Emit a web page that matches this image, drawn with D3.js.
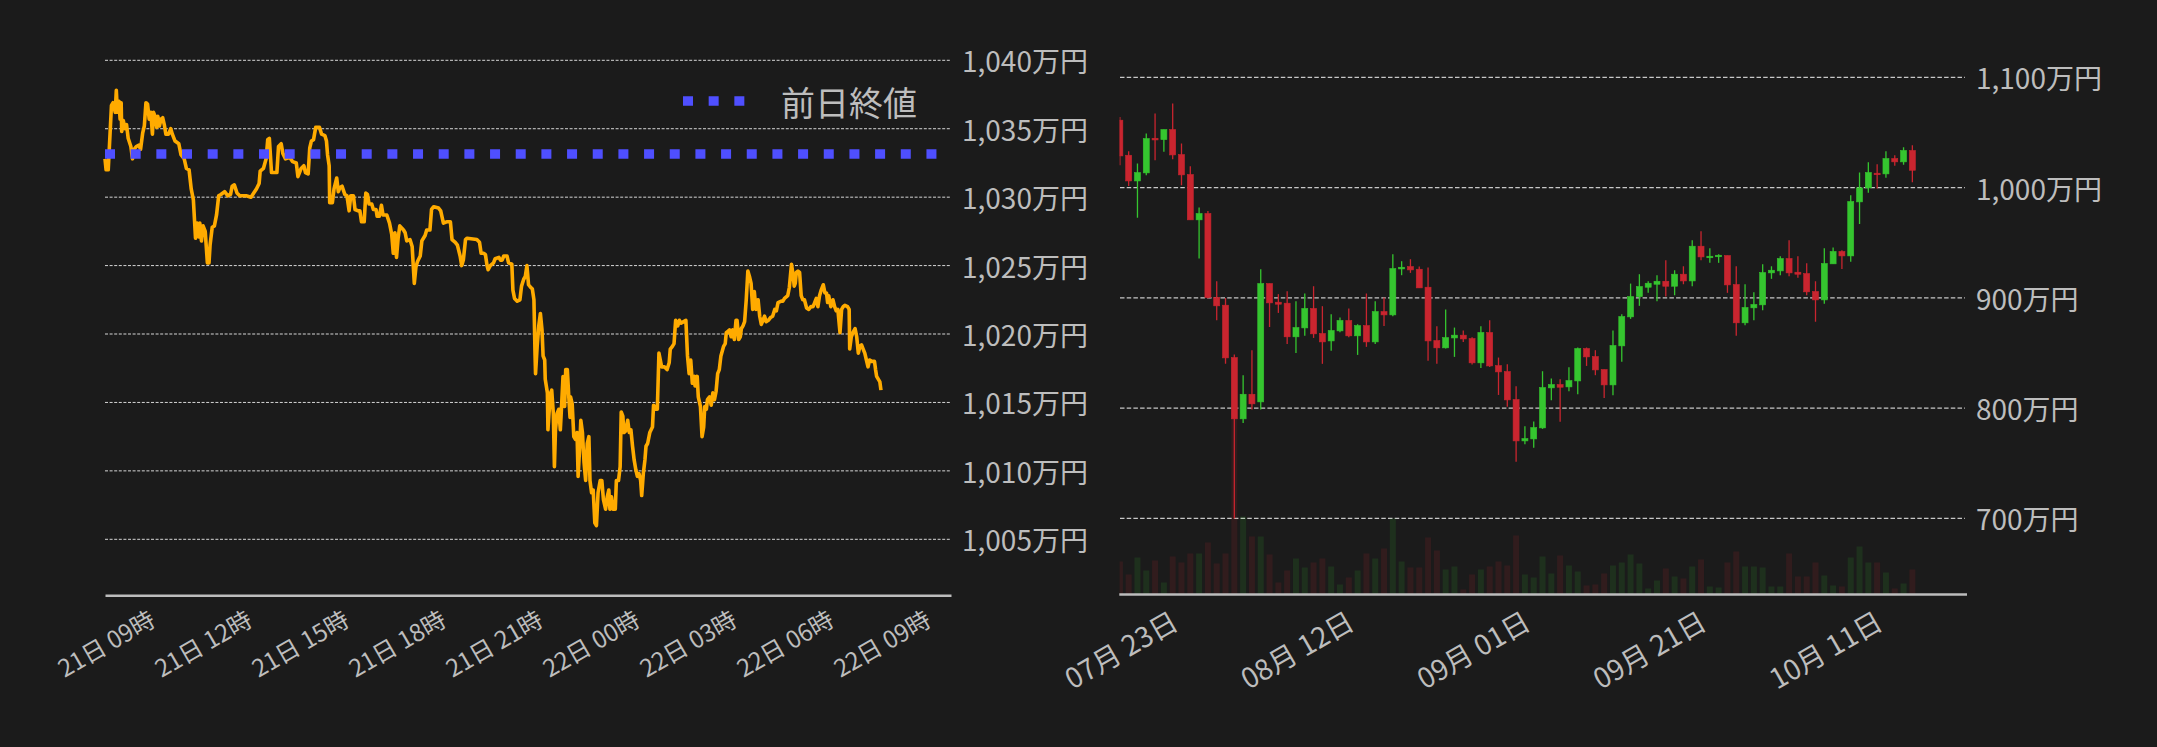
<!DOCTYPE html>
<html>
<head>
<meta charset="utf-8">
<script src="https://cdn.jsdelivr.net/npm/d3@7"></script>
<style>
  html, body { margin: 0; padding: 0; background: #1b1b1b; }
  svg { display: block; }
  text { font-family: "Noto Sans CJK JP", "Noto Sans", sans-serif; fill: #bdbdbd; }
</style>
</head>
<body>
<svg id="chart"></svg>
<script>
// ---- intraday (21日 09時 -> 22日 09時), minutes after start / price in 万円
const lineMinutes = [
  0,2,6,12,15,19,21,23,26,28, 30,31,34,37,40,43,48,51,54,58,
  63,66,70,73,76,79,82,85,88,90, 93,96,98,101,104,107,110,113,118,122,
  125,130,137,141,147,151,156,160,164,168, 171,174,176,179,182,186,190,193,195,199,
  203,207,211,215,222,228,233,236,240,245, 250,262,271,276,281,286,288,294,299,302,
  305,309,319,322,327,330,335,343,348,355, 358,361,364,369,372,377,380,383,387,391,
  395,398,402,408,411,413,416,417,422,425, 430,433,436,440,445,449,453,456,461,464,
  470,473,476,481,484,487,490,495,498,503, 505,509,513,516,523,528,532,535,538,541,
  544,547,554,557,560,566,570,574,577,580, 585,588,594,597,603,606,610,619,623,628,
  634,641,644,650,654,659,662,665,669,672, 690,695,698,703,706,709,711,715,721,724,
  731,
  734,737,740,746,749,755,757,760,765,770, 773,777,780,783,786,790,793,796,798,799,
  802,805,808,811,813,816,817,821,822,824, 827,829,832,834,836,839,842,845,847,850,
  853,855,858,861,863,864,867,870,873,876, 878,881,883,886,889,892,895,898,900,903,
  906,909,912,915,919,922,925,929,932,935, 937,940,943,947,949,953,956,958,961,963,
  966,970,973,976,979,982,985,988,991,994, 996,999,1002,1004,1007,1011,1016,1018,1022,1025,
  1028,1033,1038,1043,1047,1049,1053,1056,1059,1063, 1066,1069,1078,1081,1084,1087,1090,1094,1095,1099,
  1101,1105,1108,1111,1113,1116,1118,1122,1125,1128, 1131,1134,1137,1140,1143,1148,1151,1153,1156,1159,
  1162,1165,1168,1171,1173,1176,1179,1181,1184,1187, 1190,1193,1196,1199,1202,1205,1208,1212,1215,1218,
  1221,1224,1227,1231,1235,1239,1243,1246,1249,1255, 1258,1261,1267,1270,1274,1277,1279,1281,1283,1286,
  1289,1292,1295,1298,1302,1306,1310,1314,1317,1320, 1323,1326,1329,1333,1336,1339,1341,1343,1347,1351,
  1354,1357,1360,1364,1367,1370,1373,1378,1381,1382, 1385,1388,1392,1395,1398,1401,1404,1407,1410,1413,
  1416,1419,1423,1428,1430,1432,1435,1438,1440
];
const linePrices = [
  1032.8,1032.0,1032.0,1036.7,1036.9,1036.2,1037.8,1036.2,1037.0,1035.7, 1036.9,1034.8,1035.6,1035.0,1035.3,1034.3,1033.7,1032.8,1033.5,1033.7,
  1033.8,1033.5,1034.7,1035.2,1036.9,1036.8,1035.7,1036.2,1034.6,1036.2, 1035.9,1035.1,1035.9,1035.2,1035.7,1035.8,1035.3,1034.6,1034.6,1035.0,
  1034.6,1034.1,1033.9,1033.1,1032.8,1032.1,1032.0,1030.6,1029.8,1027.0, 1028.1,1027.1,1028.1,1026.8,1027.9,1027.5,1025.2,1025.2,1026.5,1027.8,
  1027.9,1028.7,1030.1,1030.2,1030.4,1030.1,1030.2,1030.8,1030.9,1030.3, 1030.1,1030.1,1030.0,1030.3,1030.6,1031.0,1031.9,1032.1,1032.8,1034.2,
  1034.3,1031.8,1031.8,1033.7,1033.9,1033.2,1032.8,1032.9,1032.6,1032.5, 1031.5,1031.8,1032.1,1032.3,1031.8,1031.7,1033.6,1034.1,1034.2,1035.1,
  1035.1,1035.1,1034.6,1034.5,1034.1,1033.1,1032.3,1029.6,1029.6,1030.6, 1031.4,1030.4,1030.7,1030.8,1030.2,1030.1,1029.0,1030.1,1030.1,1029.1,
  1029.0,1029.0,1028.2,1028.2,1030.3,1030.2,1029.5,1029.5,1029.1,1029.1, 1028.6,1028.6,1029.4,1028.7,1028.7,1028.1,1027.3,1025.9,1027.4,1025.6,
  1027.0,1027.9,1027.6,1027.4,1026.8,1026.9,1026.4,1023.7,1024.9,1025.3, 1025.7,1026.8,1027.2,1027.6,1027.6,1029.1,1029.3,1029.2,1029.0,1028.1,
  1028.2,1028.2,1026.9,1026.7,1026.5,1025.7,1025.0,1025.4,1026.9,1027.0, 1026.9,1026.7,1025.9,1025.9,1025.8,1025.0,1024.7,1025.0,1025.2,1025.5,
  1025.6,
  1025.4,1025.4,1025.7,1025.7,1025.2,1025.1,1023.2,1022.6,1022.4,1022.5, 1023.5,1024.0,1024.2,1025.0,1023.6,1023.4,1023.3,1022.5,1018.6,1017.1,
  1019.1,1020.6,1021.5,1020.3,1018.4,1018.1,1016.7,1015.7,1013.0,1014.2, 1015.7,1015.9,1014.2,1010.3,1013.0,1014.2,1014.5,1013.0,1014.5,1016.9,
  1014.7,1017.4,1017.4,1015.2,1013.9,1015.4,1014.9,1012.5,1012.3,1012.8, 1009.6,1011.8,1013.7,1012.8,1010.6,1009.3,1012.0,1012.5,1009.3,1008.4,
  1008.6,1006.2,1006.0,1008.4,1009.3,1009.3,1007.9,1007.2,1008.1,1008.6, 1007.2,1008.1,1007.2,1007.2,1009.3,1009.3,1010.3,1014.3,1014.0,1012.8,
  1012.9,1013.7,1012.8,1013.0,1011.8,1010.8,1010.1,1009.6,1009.8,1009.3, 1008.2,1009.8,1010.8,1011.8,1012.0,1012.8,1013.2,1014.8,1014.5,1014.5,
  1018.6,1017.6,1017.6,1017.4,1017.9,1018.9,1019.1,1019.3,1021.0,1020.6, 1021.0,1020.8,1021.0,1018.4,1017.1,1018.1,1016.4,1016.9,1016.2,1016.9,
  1015.4,1014.7,1012.5,1013.2,1014.7,1014.5,1015.2,1015.4,1014.8,1015.7, 1015.2,1015.8,1017.1,1017.4,1018.4,1019.1,1019.3,1020.1,1020.2,1020.3,
  1019.8,1020.3,1019.6,1021.0,1021.0,1019.6,1019.8,1020.4,1020.6,1020.9, 1022.5,1024.6,1024.2,1023.7,1021.8,1023.1,1021.8,1022.5,1021.3,1020.7,
  1021.0,1021.3,1020.9,1021.0,1021.2,1021.3,1021.8,1021.7,1022.3,1022.4, 1022.4,1022.6,1022.8,1023.4,1025.1,1024.3,1023.5,1023.7,1024.5,1024.6,
  1024.5,1022.8,1022.5,1022.5,1021.9,1021.8,1022.0,1022.0,1022.3,1022.6, 1022.0,1022.8,1023.2,1023.6,1023.0,1023.0,1022.3,1022.8,1022.0,1022.5,
  1022.0,1021.7,1021.8,1020.1,1021.8,1022.0,1022.1,1022.0,1021.8,1018.9, 1019.8,1020.1,1020.4,1019.8,1018.6,1019.1,1019.2,1018.9,1018.6,1018.1,
  1017.6,1018.1,1018.0,1018.0,1017.4,1016.9,1016.7,1016.5,1015.9
];
const prevClose = 1033.15;          // 前日終値
const intradayTicks = [1005, 1010, 1015, 1020, 1025, 1030, 1035, 1040];

// ---- daily candles from 2024-07-23 (万円), volume in BTC
const firstDay = "2024-07-23";
const opens = [
  1061.1,1029.3,1006.0,1013.3,1044.7,1043.5,1052.6,1029.9,1011.8,970.7,
  976.4,900.2,893.3,845.8,790.2,812.5,805.6,912.9,896.0,895.1,
  864.6,872.7,890.3,867.6,860.9,870.0,879.4,865.5,874.8,860.0,
  887.5,884.5,926.2,928.3,925.9,909.6,861.2,854.6,863.6,866.1,
  863.0,841.0,868.5,838.5,833.1,807.7,770.2,772.0,782.0,818.3,
  821.3,819.2,824.6,854.0,846.7,834.9,821.0,856.4,882.7,901.1,
  909.6,912.3,915.0,910.5,921.4,915.3,946.8,937.1,937.7,938.3,
  912.0,877.3,890.9,893.6,922.6,924.4,935.6,923.2,922.0,905.7,
  898.1,930.8,942.0,938.0,987.0,999.7,1013.0,1012.4,1026.3,1023.3,
  1033.6
];
const highs = [
  1064.1,1033.0,1021.8,1049.0,1067.1,1052.6,1076.2,1039.9,1019.3,981.9,
  978.8,915.0,899.9,848.5,829.8,852.5,925.9,912.9,903.3,906.0,
  896.9,903.9,910.5,892.4,885.1,882.1,890.3,876.0,903.9,896.9,
  900.2,939.5,933.2,935.0,928.3,927.4,874.2,889.3,873.0,870.3,
  864.2,874.2,879.7,845.8,839.8,819.8,783.5,787.8,833.4,826.8,
  826.2,837.0,854.9,854.9,852.5,834.9,870.3,885.1,912.9,921.4,
  915.0,920.5,934.1,925.0,928.6,952.2,960.4,945.0,939.5,938.3,
  928.6,912.3,905.1,930.5,928.6,937.7,952.2,937.7,931.4,915.0,
  945.0,945.6,943.2,993.0,1013.6,1023.0,1021.2,1033.0,1029.3,1036.6,
  1038.4
];
const lows = [
  1020.3,1001.5,972.5,1011.2,1024.8,1032.4,1025.7,1002.1,970.7,935.6,
  899.3,879.7,840.1,699.8,786.5,798.6,798.6,873.6,886.3,858.2,
  850.0,865.5,863.6,840.1,851.9,868.8,864.2,848.2,855.5,858.2,
  874.5,883.3,920.5,922.6,909.0,842.8,840.1,854.0,846.4,860.0,
  839.5,836.4,837.3,811.9,801.1,751.2,767.2,763.9,781.1,807.1,
  787.5,815.3,812.5,838.2,829.8,809.2,811.6,841.9,880.9,892.7,
  904.5,896.9,901.1,902.3,912.3,910.5,934.1,931.7,931.7,904.5,
  865.5,875.1,879.7,888.7,917.2,920.5,919.6,918.1,902.3,878.2,
  894.5,930.8,926.2,932.6,967.0,995.2,999.1,1008.8,1019.7,1020.6,
  1004.8
];
const closes = [
  1028.7,1006.0,1013.6,1044.4,1043.2,1052.6,1029.6,1011.5,970.7,976.4,
  900.2,892.7,845.5,790.2,812.5,803.8,912.9,895.4,894.2,864.6,
  873.0,890.3,867.3,860.0,870.3,879.4,865.5,874.8,860.0,887.5,
  884.5,926.5,927.7,925.3,909.0,860.9,854.6,863.9,866.1,862.7,
  841.0,868.5,838.2,832.8,807.4,770.2,772.3,782.3,818.6,821.3,
  818.9,824.9,854.0,846.4,834.6,821.0,856.7,883.0,901.1,910.2,
  913.2,915.0,910.5,921.4,915.3,946.8,937.1,937.7,938.6,911.7,
  877.3,891.2,893.9,922.9,925.0,935.6,922.6,921.4,905.4,898.1,
  931.1,942.0,938.0,987.3,999.7,1013.6,1012.4,1026.3,1023.3,1033.6,
  1015.7
];
const volumes = [
  3300,2000,3700,2400,3400,1200,3800,3200,4100,4100,
  5200,3100,4100,18200,7800,5800,5800,4000,1200,2400,
  3600,2700,3200,3600,2800,1000,1700,2400,4100,3600,
  4600,7600,3300,2700,2700,5700,4400,2500,2800,500,
  2000,2500,2800,3300,2900,5900,2000,1700,3800,2100,
  3900,2900,2300,900,1000,2100,2900,3200,4000,3100,
  600,1400,2600,1800,1600,2800,3500,800,700,3200,
  4300,2800,2800,2700,800,800,4100,1800,1800,3200,
  1900,900,800,3700,4800,3200,3200,2200,600,1100,
  2500
];
const dayTicks = ["2024-07-23", "2024-08-12", "2024-09-01", "2024-09-21", "2024-10-11"];
const dailyPriceTicks = [700, 800, 900, 1000, 1100];

// ---------------------------------------------------------------
const W = 2157, H = 747;
const svg = d3.select("#chart").attr("width", W).attr("height", H);
svg.append("rect").attr("width", W).attr("height", H).attr("fill", "#1b1b1b");

const yen = v => d3.format(",")(v) + "万円";

// ================= left : intraday line =================
const parseMin = d3.timeParse("%Y-%m-%d %H:%M");
const t0 = parseMin("2024-10-21 09:00");
const lineData = lineMinutes.map((m, i) => ({ t: d3.timeMinute.offset(t0, m), v: linePrices[i] }));

const xL = d3.scaleTime()
    .domain([t0, parseMin("2024-10-22 11:10")])
    .range([105, 951]);
const yL = d3.scaleLinear()
    .domain([1005, 1040])
    .range([539.3, 60.3]);

const left = svg.append("g");

// grid
left.append("g").selectAll("line")
  .data(intradayTicks)
  .join("line")
    .attr("x1", 105).attr("x2", 950)
    .attr("y1", d => yL(d)).attr("y2", d => yL(d))
    .attr("stroke", "#d6d6d6")
    .attr("stroke-width", 1)
    .attr("stroke-dasharray", "3,1.6");

left.append("g").selectAll("text")
  .data(intradayTicks)
  .join("text")
    .attr("x", 962)
    .attr("y", d => yL(d))
    .attr("dominant-baseline", "central")
    .attr("font-size", 28)
    .text(yen);

const line = d3.line()
    .x(d => xL(d.t))
    .y(d => yL(d.v));

left.append("path")
    .datum(lineData)
    .attr("d", line)
    .attr("fill", "none")
    .attr("stroke", "#ffab00")
    .attr("stroke-width", 3.6)
    .attr("stroke-linejoin", "round");

// 前日終値 (dotted)
left.append("line")
    .attr("x1", xL.range()[0]).attr("x2", xL.range()[1])
    .attr("y1", yL(prevClose)).attr("y2", yL(prevClose))
    .attr("stroke", "#4f4fff")
    .attr("stroke-width", 9.5)
    .attr("stroke-dasharray", "10,15.67");

// legend
left.append("line")
    .attr("x1", 683).attr("x2", 745)
    .attr("y1", 101).attr("y2", 101)
    .attr("stroke", "#4f4fff")
    .attr("stroke-width", 9.5)
    .attr("stroke-dasharray", "10,15.67");
left.append("text")
    .attr("x", 781).attr("y", 101)
    .attr("dominant-baseline", "central")
    .attr("font-size", 34)
    .text("前日終値");

// x axis
const axL = left.append("g")
    .attr("transform", "translate(0,595.3)")
    .call(d3.axisBottom(xL)
      .tickValues(d3.timeHour.range(t0, parseMin("2024-10-22 10:00"), 3))
      .tickFormat(d3.timeFormat("%d日 %H時"))
      .tickSize(0).tickSizeOuter(0));
axL.attr("font-family", null).attr("font-size", null);
axL.select(".domain").attr("stroke", "#bdbdbd").attr("stroke-width", 2.5);
axL.selectAll(".tick text")
    .attr("y", 0).attr("dy", null)
    .attr("font-size", 24)
    .attr("text-anchor", "middle")
    .attr("dominant-baseline", "central")
    .attr("transform", "translate(0,47) rotate(-30)");

// ================= right : daily candles =================
const parseDay = d3.timeParse("%Y-%m-%d");
const d0 = parseDay(firstDay);
const candles = opens.map((o, i) => ({
  date: d3.timeDay.offset(d0, i), o, h: highs[i], l: lows[i], c: closes[i], vol: volumes[i]
}));

const xR = d3.scaleTime()
    .domain([d0, parseDay("2024-10-27")])
    .range([1119.85, 1965.2]);
const yR = d3.scaleLinear()
    .domain([700, 1100])
    .range([518.3, 77.3]);
const yV = d3.scaleLinear()
    .domain([0, 20000])
    .range([594.5, 394.5]);

const up = "#35c52f", down = "#c9252f";
const right = svg.append("g");

right.append("clipPath").attr("id", "plotR")
  .append("rect").attr("x", 1119.6).attr("y", 0).attr("width", 847).attr("height", 594);

right.append("g").selectAll("line")
  .data(dailyPriceTicks)
  .join("line")
    .attr("x1", 1120).attr("x2", 1965)
    .attr("y1", d => yR(d)).attr("y2", d => yR(d))
    .attr("stroke", "#c8c8c8")
    .attr("stroke-width", 1.3)
    .attr("stroke-dasharray", "4.5,2.2");

right.append("g").selectAll("text")
  .data(dailyPriceTicks)
  .join("text")
    .attr("x", 1976)
    .attr("y", d => yR(d))
    .attr("dominant-baseline", "central")
    .attr("font-size", 28)
    .text(yen);

const plot = right.append("g").attr("clip-path", "url(#plotR)");
const bw = 6;

// volume
plot.append("g").selectAll("rect")
  .data(candles)
  .join("rect")
    .attr("x", d => xR(d.date) - bw / 2)
    .attr("width", bw)
    .attr("y", d => yV(d.vol))
    .attr("height", d => yV(0) - yV(d.vol))
    .attr("fill", d => d.c >= d.o ? up : down)
    .attr("fill-opacity", 0.13);

const cg = plot.append("g").selectAll("g")
  .data(candles)
  .join("g");

cg.append("line")
    .attr("x1", d => xR(d.date)).attr("x2", d => xR(d.date))
    .attr("y1", d => yR(d.h)).attr("y2", d => yR(d.l))
    .attr("stroke", d => d.c >= d.o ? up : down)
    .attr("stroke-width", 1.3);

cg.append("rect")
    .attr("x", d => xR(d.date) - bw / 2)
    .attr("width", bw)
    .attr("y", d => yR(Math.max(d.o, d.c)))
    .attr("height", d => Math.max(1.5, Math.abs(yR(d.o) - yR(d.c))))
    .attr("fill", d => d.c >= d.o ? up : down)
    .attr("stroke", d => d.c >= d.o ? up : down)
    .attr("stroke-width", 0.6);

const axR = right.append("g")
    .attr("transform", "translate(0,594.5)")
    .call(d3.axisBottom(xR)
      .tickValues(dayTicks.map(parseDay))
      .tickFormat(d3.timeFormat("%m月 %d日"))
      .tickSize(0).tickSizeOuter(0));
axR.attr("font-family", null).attr("font-size", null);
axR.select(".domain").attr("stroke", "#bdbdbd").attr("stroke-width", 2.5)
    .attr("d", "M1119.3,0H1967");
axR.selectAll(".tick text")
    .attr("y", 0).attr("dy", null)
    .attr("font-size", 28)
    .attr("text-anchor", "middle")
    .attr("dominant-baseline", "central")
    .attr("transform", "translate(0,54) rotate(-30)");
</script>
</body>
</html>
